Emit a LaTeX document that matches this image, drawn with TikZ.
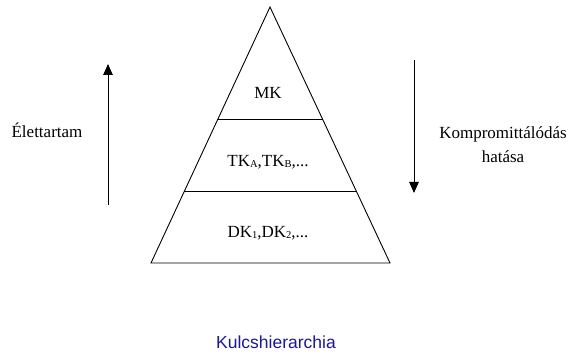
\documentclass[tikz,border=0pt]{standalone}
\usepackage{fontspec}
\setmainfont{Liberation Serif}
\newfontfamily\arialfont{Liberation Sans}
\usetikzlibrary{arrows.meta}
\definecolor{titleblue}{RGB}{25,25,150}
\newcommand{\lowsub}[1]{\raisebox{-0.2ex}{\fontsize{10.5}{11}\selectfont #1}}
\begin{document}
\begin{tikzpicture}[x=1pt,y=-1pt,
  lbl/.style={font=\fontsize{17}{24}\selectfont, inner sep=0pt, align=center},
  edge/.style={line width=0.9pt},
  arr/.style={line width=0.9pt, -{Triangle[length=11pt,width=9.5pt]}}]
\useasboundingbox (0,0) rectangle (571,358);
\coordinate (apex) at (270,7);
\coordinate (bl) at (151,263);
\coordinate (br) at (390,263);
\draw[edge] (apex) -- (br) -- (bl) -- cycle;
\path (apex) -- (bl) coordinate[pos=0.4375] (l1a) coordinate[pos=0.7187] (l2a);
\path (apex) -- (br) coordinate[pos=0.4375] (l1b) coordinate[pos=0.7187] (l2b);
\draw[edge] (l1a) -- (l1b);
\draw[edge] (l2a) -- (l2b);
\node[lbl] (mk) at (268,93) {MK};
\node[lbl] (tk) at (268,162) {TK\lowsub{A},TK\lowsub{B},...};
\node[lbl] (dk) at (268,233) {DK\lowsub{1},DK\lowsub{2},...};
\coordinate (lbot) at (108,205);
\coordinate (ltop) at (108,64);
\draw[arr] (lbot) -- (ltop);
\coordinate (rtop) at (414,60);
\coordinate (rbot) at (414,193);
\draw[arr] (rtop) -- (rbot);
\node[lbl] (elet) at (47,130) {Élettartam};
\node[lbl] (komp) at (503,145) {Kompromittálódás\\hatása};
\node[inner sep=0pt, font=\arialfont\fontsize{17.5}{20}\selectfont, text=titleblue] (title) at (276,342) {Kulcshierarchia};
\end{tikzpicture}
\end{document}
